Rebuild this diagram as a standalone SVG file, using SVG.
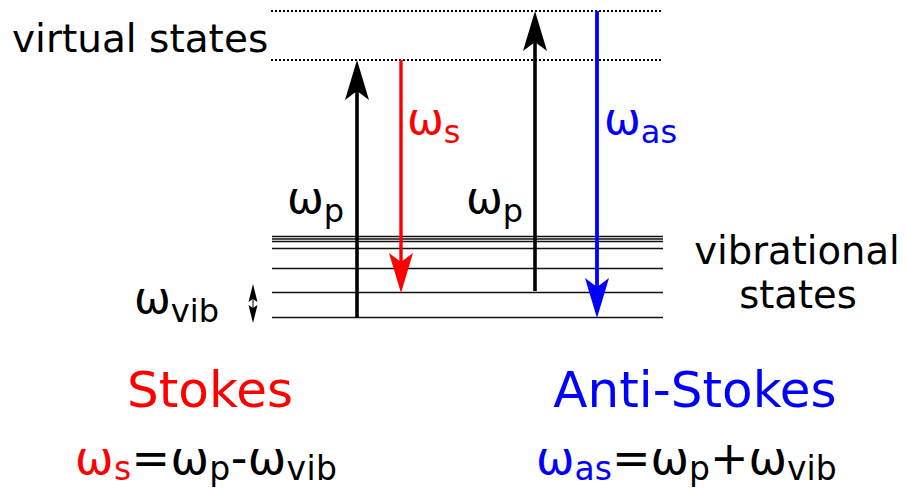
<svg xmlns="http://www.w3.org/2000/svg" width="906" height="489" viewBox="0 0 906 489">
<style>
text{font-family:"DejaVu Sans",Verdana,sans-serif;}
.lvl{stroke:#111;stroke-width:1.3;fill:none}
.dot{stroke:#000;stroke-width:2;stroke-dasharray:2 2;fill:none}
.big{font-size:39px}
.lab{font-size:44px}
.sub{font-size:32px}
.eq{font-size:46px}
.esub{font-size:33px}
.head{font-size:50px}
.k{fill:#000}.r{fill:#ff0000}.b{fill:#0000ff}
</style>
<defs>
<marker id="hk" viewBox="-42 -14 44 28" markerWidth="44" markerHeight="28" refX="-30" refY="0" orient="auto" markerUnits="userSpaceOnUse"><path d="M0,0 L-40,-12 L-31,0 L-40,12 Z" fill="#000"/></marker>
<marker id="hr" viewBox="-42 -14 44 28" markerWidth="44" markerHeight="28" refX="-30" refY="0" orient="auto" markerUnits="userSpaceOnUse"><path d="M0,0 L-40,-12 L-31,0 L-40,12 Z" fill="#ff0000"/></marker>
<marker id="hb" viewBox="-42 -14 44 28" markerWidth="44" markerHeight="28" refX="-30" refY="0" orient="auto" markerUnits="userSpaceOnUse"><path d="M0,0 L-40,-12 L-31,0 L-40,12 Z" fill="#0000ff"/></marker>
</defs>
<g id="virtual-states">
<line class="dot" x1="271" y1="11" x2="663" y2="11"/>
<line class="dot" x1="271" y1="60" x2="663" y2="60"/>
<text class="big k" x="12" y="52">virtual states</text>
</g>
<g id="vibrational-states">
<line class="lvl" x1="272" y1="236.5" x2="663" y2="236.5"/>
<line class="lvl" x1="272" y1="239" x2="663" y2="239"/>
<line class="lvl" x1="272" y1="241.5" x2="663" y2="241.5"/>
<line class="lvl" x1="272" y1="248.5" x2="663" y2="248.5"/>
<line class="lvl" x1="272" y1="268.5" x2="663" y2="268.5"/>
<line class="lvl" x1="272" y1="292.5" x2="663" y2="292.5"/>
<line class="lvl" x1="272" y1="317.5" x2="663" y2="317.5"/>
<text class="k" font-size="38.5" text-anchor="middle" x="797" y="264">vibrational</text>
<text class="k" font-size="38.5" text-anchor="middle" x="798" y="308">states</text>
</g>
<g id="connectors">
<line x1="357" y1="318" x2="357" y2="90" stroke="#000" stroke-width="3.6" marker-end="url(#hk)"/>
<line x1="401" y1="60" x2="401" y2="263" stroke="#ff0000" stroke-width="3.4" marker-end="url(#hr)"/>
<line x1="535" y1="291" x2="535" y2="41" stroke="#000" stroke-width="3.6" marker-end="url(#hk)"/>
<line x1="597" y1="11" x2="597" y2="288" stroke="#0000ff" stroke-width="3.8" marker-end="url(#hb)"/>
<g id="vib-arrow">
<line x1="253" y1="292" x2="253" y2="315" stroke="#000" stroke-width="1"/>
<path d="M253,284 L257.5,302 L253,299 L248.5,302 Z" fill="#000"/>
<path d="M253,323 L257.5,305 L253,308 L248.5,305 Z" fill="#000"/>
</g>
</g>
<g id="label-ws"><text class="lab r" x="407" y="134">ω<tspan class="sub" dy="9">s</tspan></text></g>
<g id="label-was"><text class="lab b" x="604" y="134">ω<tspan class="sub" dy="9">as</tspan></text></g>
<g id="label-wp1"><text class="lab k" x="287" y="213">ω<tspan class="sub" dy="9">p</tspan></text></g>
<g id="label-wp2"><text class="lab k" x="466" y="213">ω<tspan class="sub" dy="9">p</tspan></text></g>
<g id="label-wvib"><text class="lab k" x="134" y="313">ω<tspan class="sub" dy="9">vib</tspan></text></g>
<g id="stokes"><text class="head r" text-anchor="middle" x="210" y="407">Stokes</text>
<text class="eq k" x="75" y="474" textLength="262"><tspan class="r">ω</tspan><tspan class="esub r" dy="6">s</tspan><tspan dy="-6">=ω</tspan><tspan class="esub" dy="6">p</tspan><tspan dy="-6">-ω</tspan><tspan class="esub" dy="6">vib</tspan></text></g>
<g id="anti-stokes"><text class="head b" text-anchor="middle" x="695" y="407">Anti-Stokes</text>
<text class="eq k" x="536" y="474"><tspan class="b">ω</tspan><tspan class="esub b" dy="6">as</tspan><tspan dy="-6">=ω</tspan><tspan class="esub" dy="6">p</tspan><tspan dy="-6">+ω</tspan><tspan class="esub" dy="6">vib</tspan></text></g>
</svg>
